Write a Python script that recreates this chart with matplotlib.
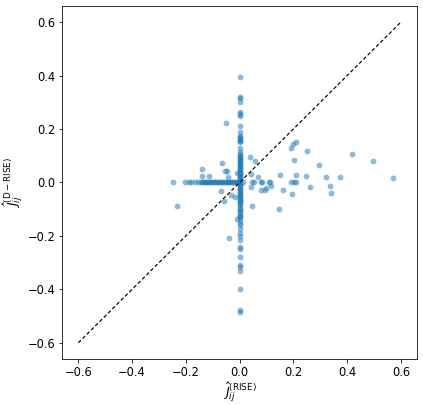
import matplotlib

matplotlib.use("Agg")
import matplotlib.pyplot as plt

# points that sit on x = 0 (D-RISE nonzero, RISE zero)
col_y = [0.395, 0.32, 0.315, 0.30, 0.262, 0.257, 0.25, 0.21, 0.19, 0.175,
         0.17, 0.165, 0.16, 0.155, 0.15, 0.13, 0.115, 0.105, 0.1, 0.095,
         0.09, 0.085, 0.08, 0.075, 0.07, 0.065, 0.06, 0.055, 0.05, 0.045,
         0.04, 0.035, 0.03, 0.025, 0.02, 0.015, 0.01, 0.005, -0.005, -0.01,
         -0.015, -0.02, -0.025, -0.03, -0.035, -0.04, -0.045, -0.05, -0.055,
         -0.06, -0.065, -0.07, -0.075, -0.08, -0.085, -0.095, -0.1, -0.105,
         -0.11, -0.12, -0.125, -0.13, -0.14, -0.15, -0.16, -0.175, -0.19,
         -0.2, -0.215, -0.24, -0.25, -0.28, -0.31, -0.315, -0.33, -0.398,
         -0.477, -0.483]

# points that sit on y = 0
row_x = [-0.248, -0.203, -0.19, -0.18, -0.165, -0.155, -0.145, -0.14,
         -0.135, -0.13, -0.125, -0.12, -0.115, -0.11, -0.105, -0.1, -0.095,
         -0.09, -0.085, -0.08, -0.075, -0.07, -0.065, -0.06, -0.055, -0.05,
         -0.045, -0.04, -0.035, -0.03, -0.025, -0.02, -0.015, -0.01, -0.005,
         0.0, 0.012, 0.047, 0.052, 0.078, 0.082, 0.108, 0.112, 0.192, 0.204,
         0.209]

# remaining scattered points
other_x = [-0.052, -0.139, -0.141, -0.115, -0.064, -0.056, -0.046, -0.042,
           -0.071, -0.059, -0.033, -0.017, -0.011, -0.038, -0.234, -0.009,
           0.038, 0.059, 0.043, 0.067, 0.043, 0.078, 0.094, 0.097, 0.118,
           0.047, 0.150, 0.162, 0.146, 0.190, 0.200, 0.211, 0.204, 0.211,
           0.193, 0.249, 0.248, 0.261, 0.295, 0.323, 0.336, 0.338, 0.375,
           0.419, 0.496, 0.571]
other_y = [0.224, 0.052, 0.024, 0.026, 0.074, 0.044, 0.044, 0.021,
           -0.031, -0.069, -0.047, -0.054, -0.138, -0.207, -0.089, 0.034,
           0.096, 0.081, 0.030, 0.021, -0.016, -0.029, -0.029, -0.022, -0.014,
           -0.089, 0.029, -0.029, -0.101, 0.128, 0.143, 0.153, 0.083, 0.029,
           -0.045, 0.118, 0.024, -0.016, 0.064, 0.019, -0.014, -0.039, 0.019,
           0.108, 0.081, 0.016]

rise = [0.0] * len(col_y) + row_x + other_x
drise = col_y + [0.0] * len(row_x) + other_y

fig = plt.figure(figsize=(423 / 72, 405 / 72), dpi=72)
ax = fig.add_axes([0.147, 0.114, 0.839, 0.871])

ax.scatter(rise, drise, s=34, color="C0", alpha=0.5, linewidths=0)
ax.plot([-0.6, 0.6], [-0.6, 0.6], "k--", linewidth=1.2, dashes=(3, 2))

ax.set_xlim(-0.66, 0.66)
ax.set_ylim(-0.66, 0.66)
ax.set_xticks([-0.6, -0.4, -0.2, 0.0, 0.2, 0.4, 0.6])
ax.set_yticks([-0.6, -0.4, -0.2, 0.0, 0.2, 0.4, 0.6])
ax.tick_params(labelsize=11.5)
ax.set_xlabel(r"$\hat{J}_{ij}^{(\mathrm{RISE})}$", fontsize=12.5, labelpad=2)
ax.set_ylabel(r"$\hat{J}_{ij}^{(\mathrm{D-RISE})}$", fontsize=12.5, labelpad=2)

fig.savefig("out.png", dpi=72)
